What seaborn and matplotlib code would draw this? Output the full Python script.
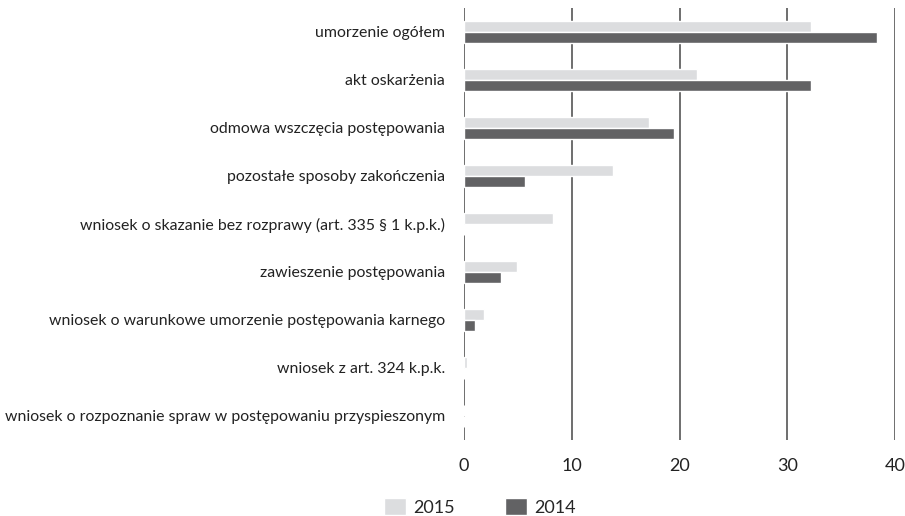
import pandas as pd
import numpy as np
import matplotlib
matplotlib.use("Agg")
import matplotlib.pyplot as plt
import seaborn as sns

categories = [
    "umorzenie ogółem",
    "akt oskarżenia",
    "odmowa wszczęcia postępowania",
    "pozostałe sposoby zakończenia",
    "wniosek o skazanie bez rozprawy (art. 335 § 1 k.p.k.)",
    "zawieszenie postępowania",
    "wniosek o warunkowe umorzenie postępowania karnego",
    "wniosek z art. 324 k.p.k.",
    "wniosek o rozpoznanie spraw w postępowaniu przyspieszonym",
]
values_2015 = [32.2, 21.6, 17.2, 13.8, 8.3, 4.9, 1.9, 0.3, 0.0]
values_2014 = [38.3, 32.2, 19.5, 5.7, 0.0, 3.4, 1.0, 0.0, 0.0]
years = ["2015", "2014"]
colors = {"2015": "#dcdddf", "2014": "#626264"}

df = pd.DataFrame({
    "kategoria": categories * 2,
    "wartosc": values_2015 + values_2014,
    "rok": ["2015"] * len(categories) + ["2014"] * len(categories),
})

sns.set_style("white")
plt.rcParams["font.family"] = ["Lato", "DejaVu Sans"]

fig = plt.figure(figsize=(9.05, 5.16), dpi=100)
ax = fig.add_axes([464 / 905, 1 - 440 / 516, (895 - 464) / 905, 432 / 516])

sns.barplot(data=df, y="kategoria", x="wartosc", hue="rok", hue_order=years,
            order=categories, palette=colors, width=0.46, orient="h",
            saturation=1, errorbar=None, ax=ax)

ax.set_xlim(0, 40)
ax.set_ylim(8.5, -0.5)
ax.set_xticks([0, 10, 20, 30, 40])
ax.set_axisbelow(True)
ax.xaxis.grid(True, color="#555555", linewidth=1.2)
ax.yaxis.grid(False)
for s in ax.spines.values():
    s.set_visible(False)
ax.set_xlabel("")
ax.set_ylabel("")
ax.tick_params(axis="y", length=0, pad=13.7, labelsize=11.4, labelcolor="#222222")
ax.tick_params(axis="x", length=0, pad=13, labelsize=13, labelcolor="#222222")

ax.legend(loc="center", bbox_to_anchor=(480 / 905, 9 / 516),
          bbox_transform=fig.transFigure, ncol=2, frameon=False,
          fontsize=13, handlelength=1.2, handleheight=1.1,
          handletextpad=0.4, columnspacing=2.8, borderaxespad=0)

fig.savefig("out.png", dpi=100)
